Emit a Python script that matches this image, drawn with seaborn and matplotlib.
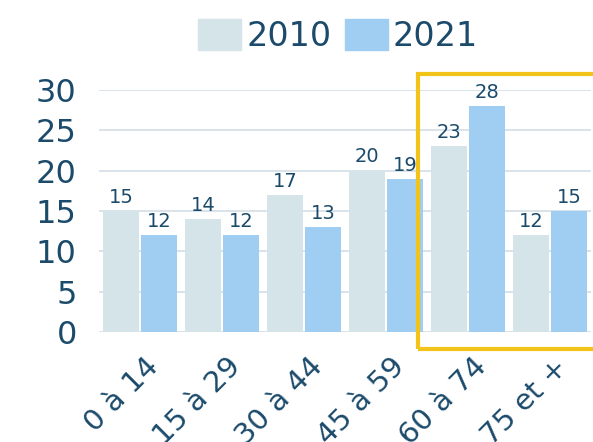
import matplotlib.pyplot as plt
import matplotlib.patches as mpatches
import matplotlib.transforms as mtrans
import seaborn as sns
import pandas as pd

ages = ["0 à 14", "15 à 29", "30 à 44", "45 à 59", "60 à 74", "75 et +"]
years = ["2010", "2021"]
v2010 = [15, 14, 17, 20, 23, 12]
v2021 = [12, 12, 13, 19, 28, 15]

c2010 = "#d5e4e9"
c2021 = "#a0cdf2"
navy = "#1b4a6b"

df = pd.DataFrame({
    "age": ages * 2,
    "year": [years[0]] * len(ages) + [years[1]] * len(ages),
    "value": v2010 + v2021,
})

sns.set_theme(style="white")
plt.rcParams['font.family'] = ['DejaVu Sans']

fig = plt.figure(figsize=(5.93, 4.42), dpi=100)
ax = fig.add_axes([99 / 593, 110 / 442, 492 / 593, 242 / 442])

sns.barplot(data=df, x="age", y="value", hue="year", palette=[c2010, c2021],
            width=0.93, gap=0.05, ax=ax, legend=False, saturation=1, linewidth=0)

for cont in ax.containers:
    ax.bar_label(cont, fontsize=14, color=navy, padding=3)

ax.set_ylim(0, 30)
ax.set_xlim(-0.5, 5.5)
ax.set_yticks(range(0, 31, 5))
ax.yaxis.grid(True, color="#d3dde6", linewidth=1.2)
ax.set_axisbelow(True)
for s in ax.spines.values():
    s.set_visible(False)
ax.set_xlabel("")
ax.set_ylabel("")
ax.tick_params(axis="y", labelsize=23, labelcolor=navy, length=0, pad=16)
ax.tick_params(axis="x", labelsize=21, labelcolor=navy, length=0, pad=22)
offset = mtrans.ScaledTranslation(14 / 100, 0, fig.dpi_scale_trans)
for lab in ax.get_xticklabels():
    lab.set_rotation(45)
    lab.set_ha("right")
    lab.set_va("center")
    lab.set_rotation_mode("anchor")
    lab.set_transform(lab.get_transform() + offset)

handles = [mpatches.Patch(color=c2010, label="2010"), mpatches.Patch(color=c2021, label="2021")]
fig.legend(handles=handles, loc="center", bbox_to_anchor=(0.57, 0.918), ncol=2,
           frameon=False, fontsize=24, labelcolor=navy, handlelength=1.3, handleheight=1.05,
           handletextpad=0.15, columnspacing=0.4, borderpad=0.1)

fig.patches.append(mpatches.Rectangle((418 / 593, 1 - 349 / 442), 0.32, 275 / 442,
                                      transform=fig.transFigure, fill=False,
                                      edgecolor="#f2c318", linewidth=3))

fig.savefig("out.png", dpi=100)
